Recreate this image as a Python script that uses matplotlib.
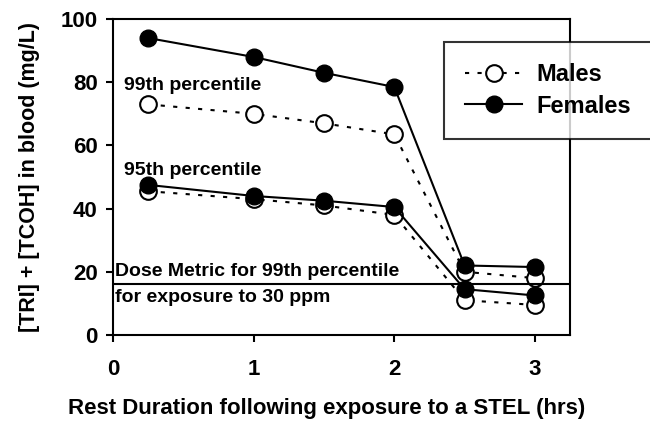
import matplotlib
matplotlib.use('Agg')
import matplotlib.pyplot as plt

plt.rcParams['font.family'] = ['Liberation Sans', 'DejaVu Sans']
plt.rcParams['font.weight'] = 'bold'

# rest duration (hrs)
hours = [0.25, 1, 1.5, 2, 2.5, 3]

# 99th percentile
females_99 = [94, 88, 83, 78.5, 22, 21.5]
males_99 = [73, 70, 67, 63.5, 20, 18]

# 95th percentile
females_95 = [47.5, 44, 42.5, 40.5, 14.5, 12.5]
males_95 = [45.5, 43, 41, 38, 11, 9.5]

dose_metric = 16

fig = plt.figure(figsize=(6.5, 4.24), dpi=100)
ax = fig.add_axes([0.174, 0.21, 0.703, 0.745])

male_style = dict(color='black', linestyle=(0, (2, 4)), linewidth=1.5,
                  marker='o', markersize=12, markerfacecolor='white',
                  markeredgecolor='black', markeredgewidth=1.5)
female_style = dict(color='black', linestyle='-', linewidth=1.5,
                    marker='o', markersize=12, markerfacecolor='black',
                    markeredgecolor='black')

ax.plot(hours, males_99, label='Males', **male_style)
ax.plot(hours, males_95, **male_style)
ax.plot(hours, females_99, label='Females', **female_style)
ax.plot(hours, females_95, **female_style)

ax.axhline(dose_metric, color='black', linewidth=1.5)
ax.text(0.01, dose_metric + 1.5, 'Dose Metric for 99th percentile',
        fontsize=14, fontweight='bold', va='bottom', ha='left')
ax.text(0.01, dose_metric - 1.5, 'for exposure to 30 ppm',
        fontsize=14, fontweight='bold', va='top', ha='left')

ax.text(0.08, 79, '99th percentile', fontsize=14, fontweight='bold', va='center')
ax.text(0.08, 52, '95th percentile', fontsize=14, fontweight='bold', va='center')

ax.set_xlim(0, 3.25)
ax.set_ylim(0, 100)
ax.set_xticks([0, 1, 2, 3])
ax.set_yticks([0, 20, 40, 60, 80, 100])
ax.tick_params(labelsize=16, direction='out', length=5, width=1.5)
for lbl in ax.get_xticklabels() + ax.get_yticklabels():
    lbl.set_fontweight('bold')
ax.tick_params(axis='x', pad=12)
ax.tick_params(axis='y', pad=6)
for s in ax.spines.values():
    s.set_linewidth(1.5)

ax.set_xlabel('Rest Duration following exposure to a STEL (hrs)',
              fontsize=16, fontweight='bold')
ax.xaxis.set_label_coords(0.468, -0.2)
ax.set_ylabel('[TRI] + [TCOH] in blood (mg/L)', fontsize=15.5,
              fontweight='bold')
ax.yaxis.set_label_coords(-0.16, 0.5)

leg = ax.legend(loc='upper left',
                bbox_to_anchor=(444 / 650, (424 - 140) / 424, 0.4, 98 / 424),
                bbox_transform=fig.transFigure, mode='expand', borderaxespad=0,
                fontsize=17, frameon=True, fancybox=False, edgecolor='black',
                handlelength=2.4, handletextpad=0.6, borderpad=0.9,
                labelspacing=0.35)
leg.get_frame().set_linewidth(1.5)
for t in leg.get_texts():
    t.set_fontweight('bold')

fig.savefig('out.png', dpi=100)
